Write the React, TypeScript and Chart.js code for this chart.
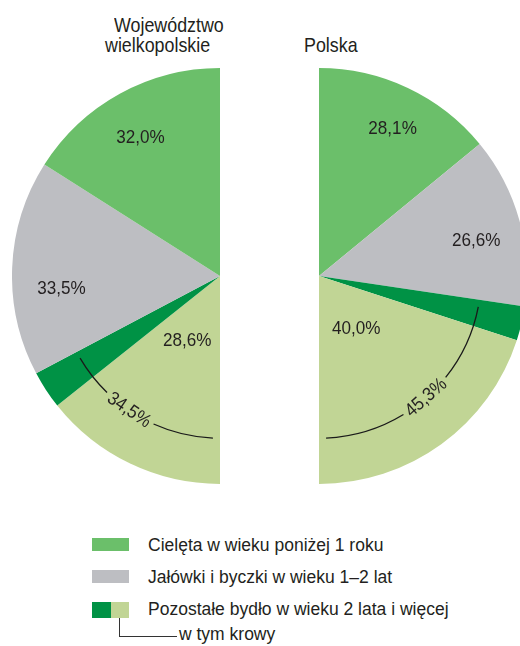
import React, { useEffect, useRef } from "react";
import { Chart, registerables } from "chart.js";

Chart.register(...registerables);

// ---- data ----
const categories = [
  "Cielęta w wieku poniżej 1 roku",
  "Jałówki i byczki w wieku 1–2 lat",
  "Pozostałe bydło w wieku 2 lata i więcej",
  "w tym krowy",
];
const regionTitleLines = ["Województwo", "wielkopolskie"];
const countryTitle = "Polska";
// shares in %: calves, heifers & young bulls, other 2+ (non-cows), cows
const wielkopolskieValues = [32.0, 33.5, 5.9, 28.6];
const polskaValues = [28.1, 26.6, 5.3, 40.0];
const segmentColors = ["#6bbf6a", "#bdbec2", "#009245", "#c1d595"];

const fmt = (v: number) => v.toFixed(1).replace(".", ",") + "%";

const TEXT_COLOR = "#231f20";
const FONT = "'Liberation Sans', Arial, Helvetica, sans-serif";
const LABEL_SCALE_X = 0.9;

const pieAnnotations = {
  id: "pieAnnotations",
  afterDatasetsDraw(chart: any, _args: any, opts: any) {
    const meta = chart.getDatasetMeta(0);
    const ctx = chart.ctx as CanvasRenderingContext2D;
    const props = ["x", "y", "startAngle", "endAngle", "outerRadius"];
    const drawText = (text: string, x: number, y: number, rot: number) => {
      ctx.save();
      ctx.translate(x, y);
      ctx.rotate(rot);
      ctx.scale(LABEL_SCALE_X, 1);
      ctx.fillText(text, 0, 0);
      ctx.restore();
    };
    ctx.save();
    ctx.fillStyle = TEXT_COLOR;
    ctx.font = opts.font;
    ctx.textAlign = "center";
    ctx.textBaseline = "middle";
    meta.data.forEach((el: any, i: number) => {
      const text = opts.labels[i];
      if (!text) return;
      const p = el.getProps(props, true);
      const [f, r] = opts.placement[i];
      const a = p.startAngle + (p.endAngle - p.startAngle) * f;
      const rr = p.outerRadius * r;
      drawText(text, p.x + Math.cos(a) * rr, p.y + Math.sin(a) * rr, 0);
    });
    const b = opts.bracket;
    const first = meta.data[b.from].getProps(props, true);
    const last = meta.data[b.to].getProps(props, true);
    const S = first.startAngle;
    const E = last.endAngle;
    const R = first.outerRadius * b.radius;
    const tA = S + (E - S) * b.textAt;
    const tw = ctx.measureText(b.text).width * LABEL_SCALE_X;
    const half = (tw / 2 + b.gapPad) / R;
    const pad = (b.endPad * Math.PI) / 180;
    ctx.strokeStyle = "#1a1a1a";
    ctx.lineWidth = 1.3;
    ctx.beginPath();
    ctx.arc(first.x, first.y, R, S + pad, tA - half);
    ctx.stroke();
    ctx.beginPath();
    ctx.arc(first.x, first.y, R, tA + half, E - pad);
    ctx.stroke();
    drawText(b.text, first.x + Math.cos(tA) * R, first.y + Math.sin(tA) * R, tA - Math.PI / 2);
    ctx.restore();
  },
};

type PieProps = {
  values: number[];
  colors: string[];
  labels: string[];
  placement: number[][];
  rotation: number;
  bracket: any;
  style: React.CSSProperties;
};

function HalfPie({ values, colors, labels, placement, rotation, bracket, style }: PieProps) {
  const ref = useRef<HTMLCanvasElement | null>(null);
  useEffect(() => {
    if (!ref.current) return;
    const chart = new Chart(ref.current, {
      type: "pie",
      data: {
        labels: values.map((_, i) => String(i)),
        datasets: [
          {
            data: values,
            backgroundColor: colors,
            borderWidth: 0,
            rotation,
            circumference: 180,
          } as any,
        ],
      },
      options: {
        responsive: false,
        animation: false,
        rotation,
        circumference: 180,
        events: [],
        layout: { padding: 0 },
        plugins: {
          legend: { display: false },
          tooltip: { enabled: false },
          pieAnnotations: {
            font: `19px ${FONT}`,
            labels,
            placement,
            bracket,
          },
        } as any,
      } as any,
      plugins: [pieAnnotations],
    });
    return () => chart.destroy();
  }, []);
  return <canvas ref={ref} width={208} height={416} style={{ position: "absolute", ...style }} />;
}

const textBase: React.CSSProperties = {
  position: "absolute",
  whiteSpace: "nowrap",
  fontFamily: FONT,
  color: TEXT_COLOR,
};

export default function App() {
  // left chart drawn clockwise from the bottom: cows, other 2+, heifers, calves
  const leftOrder = [3, 2, 1, 0];
  const leftValues = leftOrder.map((i) => wielkopolskieValues[i]);
  const leftColors = leftOrder.map((i) => segmentColors[i]);
  const leftLabels = leftOrder.map((i) => (i === 2 ? "" : fmt(wielkopolskieValues[i])));
  const rightLabels = polskaValues.map((v, i) => (i === 2 ? "" : fmt(v)));
  const leftTotal = fmt(wielkopolskieValues[2] + wielkopolskieValues[3]);
  const rightTotal = fmt(polskaValues[2] + polskaValues[3]);

  const titleStyle: React.CSSProperties = {
    ...textBase,
    fontSize: 21,
    lineHeight: "24px",
    transform: "scaleX(0.85)",
    transformOrigin: "left top",
  };
  const legendText: React.CSSProperties = { ...textBase, fontSize: 17.5, lineHeight: "20px" };

  return (
    <div
      style={{
        position: "absolute",
        left: 0,
        top: 0,
        width: 520,
        height: 646,
        overflow: "hidden",
        background: "#fff",
      }}
    >
      <div style={{ ...titleStyle, left: 114, top: 13 }}>{regionTitleLines[0]}</div>
      <div style={{ ...titleStyle, left: 105, top: 33 }}>{regionTitleLines[1]}</div>
      <div style={{ ...titleStyle, left: 304, top: 33 }}>{countryTitle}</div>

      <HalfPie
        values={leftValues}
        colors={leftColors}
        labels={leftLabels}
        placement={[
          [0.52, 0.35],
          [0.5, 0.5],
          [0.385, 0.765],
          [0.48, 0.765],
        ]}
        rotation={180}
        bracket={{ from: 0, to: 1, radius: 0.78, textAt: 0.55, gapPad: 4, endPad: 2.5, text: leftTotal }}
        style={{ left: 12, top: 68 }}
      />
      <HalfPie
        values={polskaValues}
        colors={segmentColors}
        labels={rightLabels}
        placement={[
          [0.526, 0.79],
          [0.56, 0.775],
          [0.5, 0.5],
          [0.51, 0.31],
        ]}
        rotation={0}
        bracket={{ from: 2, to: 3, radius: 0.78, textAt: 0.493, gapPad: 4, endPad: 2.5, text: rightTotal }}
        style={{ left: 319, top: 68 }}
      />

      {/* legend */}
      <div style={{ position: "absolute", left: 92, top: 538, width: 37, height: 13, background: segmentColors[0] }} />
      <div style={{ position: "absolute", left: 92, top: 570, width: 37, height: 13, background: segmentColors[1] }} />
      <div style={{ position: "absolute", left: 92, top: 602, width: 18.5, height: 16, background: segmentColors[2] }} />
      <div style={{ position: "absolute", left: 110.5, top: 602, width: 18.5, height: 16, background: segmentColors[3] }} />
      <div style={{ position: "absolute", left: 118.5, top: 618, width: 1.3, height: 18.5, background: "#333" }} />
      <div style={{ position: "absolute", left: 118.5, top: 635.5, width: 58.5, height: 1.3, background: "#333" }} />

      <div style={{ ...legendText, left: 148, top: 535 }}>{categories[0]}</div>
      <div style={{ ...legendText, left: 148, top: 567 }}>{categories[1]}</div>
      <div style={{ ...legendText, left: 148, top: 599 }}>{categories[2]}</div>
      <div style={{ ...legendText, left: 179, top: 624 }}>{categories[3]}</div>
    </div>
  );
}
